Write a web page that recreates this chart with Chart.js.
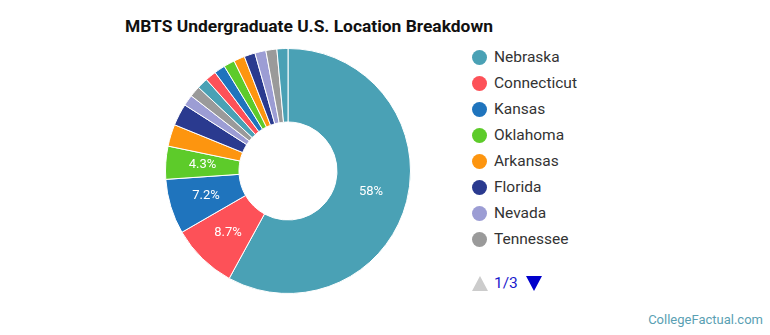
<!DOCTYPE html>
<html>
<head>
<meta charset="utf-8">
<script src="https://cdn.jsdelivr.net/npm/chart.js@4/dist/chart.umd.min.js"></script>
<style>
  body { margin: 0; background: #fff; font-family: Roboto, sans-serif; }
  #wrap { position: relative; width: 770px; height: 335px; }
  #title { position: absolute; left: 125px; top: 16px; font-size: 17.4px; font-weight: bold; color: #111; }
  #chartBox { position: absolute; left: 165px; top: 48px; width: 246px; height: 246px; }
  #legend { position: absolute; left: 472px; top: 44px; font-size: 15.5px; color: #333; }
  .item { height: 26px; display: flex; align-items: center; }
  .dot { width: 15px; height: 15px; border-radius: 50%; margin-right: 7px; }
  #pager { position: absolute; left: 472px; top: 274px; font-size: 15.5px; color: #1a1acc; display: flex; align-items: center; }
  .up { width: 0; height: 0; border-left: 8px solid transparent; border-right: 8px solid transparent; border-bottom: 15px solid #ccc; margin-right: 6px; }
  .down { width: 0; height: 0; border-left: 8px solid transparent; border-right: 8px solid transparent; border-top: 15px solid #0000cc; margin-left: 8px; }
  #credit { position: absolute; right: 7px; top: 312px; font-size: 13px; color: #5a9fb3; }
</style>
</head>
<body>
<div id="wrap">
  <div id="title">MBTS Undergraduate U.S. Location Breakdown</div>
  <div id="chartBox"><canvas id="locChart"></canvas></div>
  <div id="legend"></div>
  <div id="pager"><span class="up"></span><span>1/3</span><span class="down"></span></div>
  <div id="credit">CollegeFactual.com</div>
</div>
<script>
const states = ['Nebraska', 'Connecticut', 'Kansas', 'Oklahoma', 'Arkansas', 'Florida', 'Nevada', 'Tennessee',
    'Texas', 'Missouri', 'Iowa', 'Colorado', 'South Dakota', 'California', 'Illinois', 'Minnesota', 'Wyoming'];
const students = [40, 6, 5, 3, 2, 2, 1, 1, 1, 1, 1, 1, 1, 1, 1, 1, 1];
const palette = ['#4aa1b5', '#fd5158', '#1f74bd', '#5dcb2a', '#fd950f', '#2a3a8f', '#9c9dd4', '#9a9a9a'];
const perPage = 8;

const total = students.reduce((a, b) => a + b, 0);
const colors = states.map((s, i) => palette[i % palette.length]);

// html legend, first page only
const legendEl = document.getElementById('legend');
states.slice(0, perPage).forEach((name, i) => {
    const row = document.createElement('div');
    row.className = 'item';
    row.innerHTML = '<span class="dot" style="background:' + colors[i] + '"></span>' + name;
    legendEl.appendChild(row);
});

const pctLabels = {
    id: 'pctLabels',
    afterDatasetsDraw(chart) {
        const ctx = chart.ctx;
        const meta = chart.getDatasetMeta(0);
        ctx.save();
        ctx.fillStyle = '#fff';
        ctx.font = '13px Roboto';
        ctx.textAlign = 'center';
        ctx.textBaseline = 'middle';
        meta.data.forEach((arc, i) => {
            const pct = students[i] / total * 100;
            if (pct < 4) return;
            const p = arc.tooltipPosition();
            const txt = pct >= 10 ? Math.round(pct) + '%' : pct.toFixed(1) + '%';
            ctx.fillText(txt, p.x, p.y);
        });
        ctx.restore();
    }
};

const chartContext = document.getElementById('locChart').getContext('2d');
new Chart(chartContext, {
    type: 'doughnut',
    data: {
        labels: states,
        datasets: [{
            data: students,
            backgroundColor: colors,
            borderColor: '#fff',
            borderWidth: 1
        }]
    },
    options: {
        responsive: true,
        maintainAspectRatio: false,
        animation: false,
        cutout: '40%',
        layout: { padding: 0 },
        plugins: {
            legend: { display: false },
            tooltip: { enabled: false }
        }
    },
    plugins: [pctLabels]
});
</script>
</body>
</html>
